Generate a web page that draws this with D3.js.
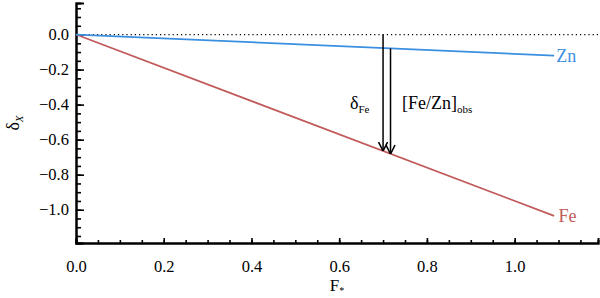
<!DOCTYPE html>
<html>
<head>
<meta charset="utf-8">
<script src="https://cdn.jsdelivr.net/npm/d3@7"></script>
<style>
  svg text, svg tspan { font-family: "Liberation Serif", "Times New Roman", Times, serif !important; }
</style>
</head>
<body style="margin:0">
<svg id="chart" width="600" height="298"></svg>
<script>
// model lines: delta_X as a function of F*
var fStar = [0.0, 1.09]
var deltaZn = [0.0, -0.12]
var deltaFe = [0.0, -1.035]
var xTicks = [0.0, 0.2, 0.4, 0.6, 0.8, 1.0]
var yTicks = [0.0, -0.2, -0.4, -0.6, -0.8, -1.0]
// arrows: [x, from, to]
var arrowDelta = [0.70, 0.0, -0.665]
var arrowObs = [0.717, -0.079, -0.682]

var svg = d3.select("#chart")
var x = d3.scaleLinear().domain([0, 1.19]).range([76, 598])
var y = d3.scaleLinear().domain([0.18, -1.19]).range([3, 243])

var blue = "#3b8fe0", red = "#c15b5b"
var serif = "'Liberation Serif'"

// arrow head, drawn along +x so orient=auto turns it down the line
svg.append("defs").append("marker")
  .attr("id", "head")
  .attr("viewBox", "0 0 10 10")
  .attr("refX", 10).attr("refY", 5)
  .attr("markerWidth", 10).attr("markerHeight", 10)
  .attr("markerUnits", "userSpaceOnUse")
  .attr("orient", "auto")
  .append("path")
  .attr("d", "M1,0.5 L10,5 L1,9.5")
  .attr("fill", "none").attr("stroke", "#000").attr("stroke-width", 1.6)

// axes
var xAxis = d3.axisBottom(x).tickValues(d3.range(0, 1.19, 0.05)).tickSize(-3).tickFormat("")
svg.append("g").attr("transform", "translate(0,243)").call(xAxis)
var xMajor = d3.axisBottom(x).tickValues(xTicks).tickSize(-5).tickPadding(17).tickFormat(d3.format(".1f"))
var gx = svg.append("g").attr("transform", "translate(0,243)").call(xMajor)

var yAxis = d3.axisLeft(y).tickValues(d3.range(0.15, -1.19, -0.05)).tickSize(-5).tickFormat("")
svg.append("g").attr("transform", "translate(76,0)").call(yAxis)
var yMajor = d3.axisLeft(y).tickValues(yTicks).tickSize(-8).tickPadding(7).tickFormat(d3.format(".1f"))
var gy = svg.append("g").attr("transform", "translate(76,0)").call(yMajor)

svg.selectAll("g").attr("font-family", null).attr("font-size", null)
svg.selectAll(".domain").attr("stroke", "#000").attr("stroke-width", 2)
svg.selectAll(".tick line").attr("stroke", "#000").attr("stroke-width", 1.6)
svg.selectAll(".tick text").attr("font-size", 16.5).attr("fill", "#000")
  .style("font-family", serif)
gx.selectAll(".tick text").attr("dy", "0.71em")

// axis titles
var xt = svg.append("text").attr("x", 337).attr("y", 291).attr("text-anchor", "middle")
  .style("font-family", serif).attr("font-size", 17)
xt.append("tspan").text("F")
xt.append("tspan").attr("font-size", 10).attr("dy", 3).text("*")

var yt = svg.append("text").attr("transform", "translate(19,123) rotate(-90)")
  .style("font-family", serif).attr("text-anchor", "middle").attr("font-size", 18)
yt.append("tspan").text("δ")
yt.append("tspan").attr("font-size", 11).attr("dy", 4).attr("font-style", "italic").text("X")

// zero reference
svg.append("line")
  .attr("x1", x(0)).attr("x2", x(1.19)).attr("y1", y(0)).attr("y2", y(0))
  .attr("stroke", "#000").attr("stroke-width", 1.2).attr("stroke-dasharray", "1.2,3")

var line = d3.line().x(d => x(d[0])).y(d => y(d[1]))
svg.append("path").datum(d3.zip(fStar, deltaFe)).attr("d", line)
  .attr("fill", "none").attr("stroke", red).attr("stroke-width", 1.8)
svg.append("path").datum(d3.zip(fStar, deltaZn)).attr("d", line)
  .attr("fill", "none").attr("stroke", blue).attr("stroke-width", 1.8)

svg.append("text").attr("x", x(1.095)).attr("y", y(-0.12) + 6)
  .style("font-family", serif).attr("font-size", 18)
  .attr("fill", blue).text("Zn")
svg.append("text").attr("x", x(1.10)).attr("y", y(-1.035) + 6)
  .style("font-family", serif).attr("font-size", 18)
  .attr("fill", red).text("Fe")

// arrows
;[arrowDelta, arrowObs].forEach(a => {
  svg.append("line")
    .attr("x1", x(a[0])).attr("x2", x(a[0]))
    .attr("y1", y(a[1])).attr("y2", y(a[2]))
    .attr("stroke", "#000").attr("stroke-width", 1.5)
    .attr("marker-end", "url(#head)")
})

var t1 = svg.append("text").attr("x", 350).attr("y", 109)
  .style("font-family", serif).attr("font-size", 18)
t1.append("tspan").text("δ")
t1.append("tspan").attr("font-size", 11).attr("dy", 4).text("Fe")

var t2 = svg.append("text").attr("x", 402).attr("y", 109)
  .style("font-family", serif).attr("font-size", 18)
t2.append("tspan").text("[Fe/Zn]")
t2.append("tspan").attr("font-size", 11).attr("dy", 4).text("obs")
</script>
</body>
</html>
